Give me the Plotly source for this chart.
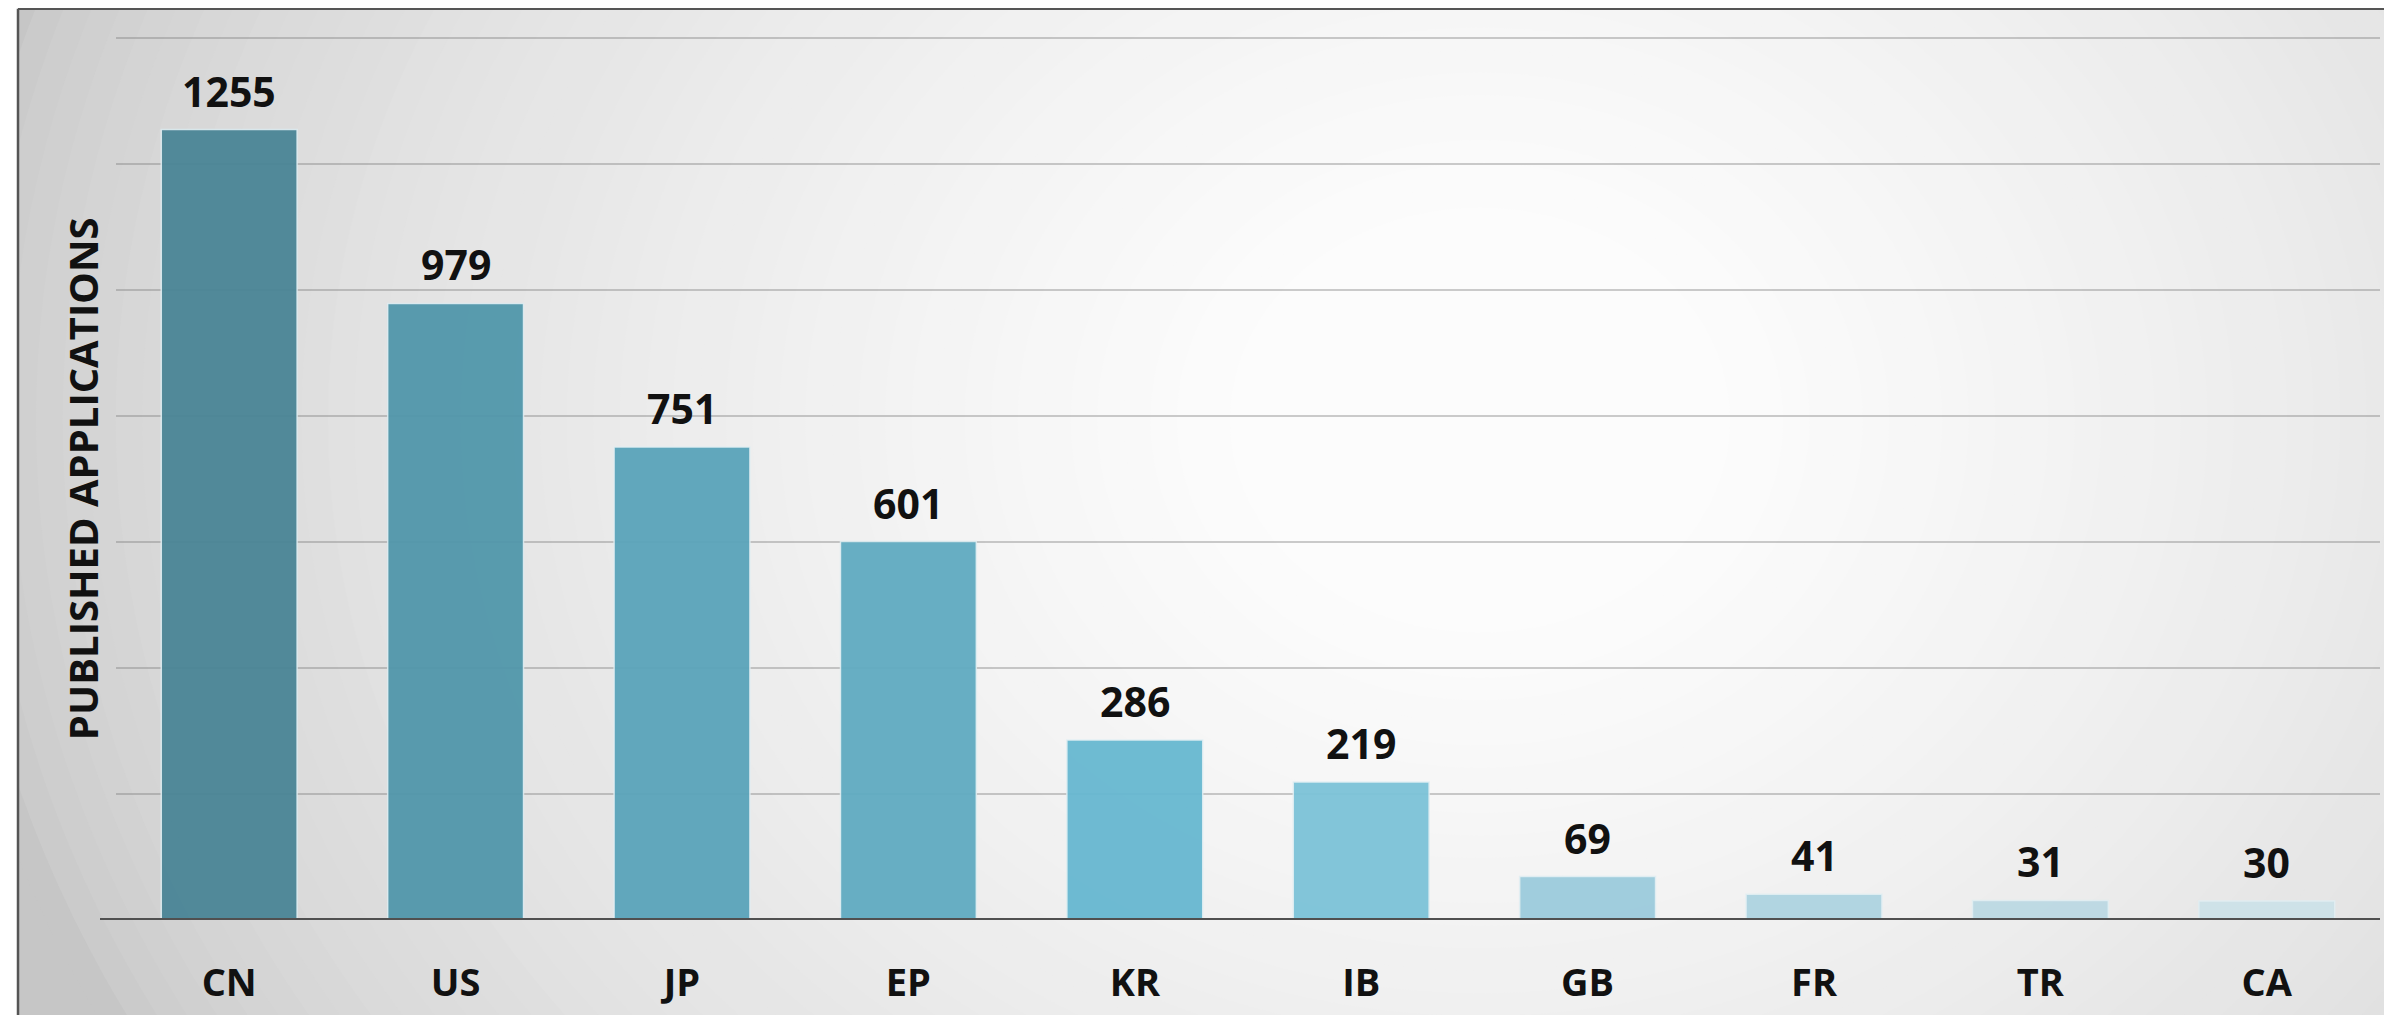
import plotly.graph_objects as go

categories = ["CN", "US", "JP", "EP", "KR", "IB", "GB", "FR", "TR", "CA"]
values = [1255, 979, 751, 601, 286, 219, 69, 41, 31, 30]
bar_colors = ["#4a8596", "#5197ab", "#5aa4ba", "#60abc1", "#67b8d1", "#7cc3d8",
              "#9ccbdc", "#aed4e1", "#bcd9e3", "#cde2e9"]
y_title = "PUBLISHED APPLICATIONS"

# page has an 8px body margin; figure sized to fit the window
OFF = 8
W, H = 2392 - 2 * OFF, 1023 - 2 * OFF
BASE_PAGE = 920          # page y of baseline
TOP1400_PAGE = 38        # page y of the 1400 gridline
YMAX = 1410
L = 116 - OFF
R = W - (2380 - OFF)
base_fig = BASE_PAGE - OFF
ppu = (BASE_PAGE - TOP1400_PAGE) / 1400.0
T = base_fig - ppu * YMAX
B = H - base_fig
PW = W - L - R
PH = H - T - B


def px_x(p):
    return (p - OFF - L) / PW


def px_y(p):
    return (base_fig - (p - OFF)) / PH


FONT = "Open Sans"

fig = go.Figure()
fig.add_trace(go.Bar(
    x=categories, y=values,
    marker=dict(color=bar_colors, opacity=0.95,
                line=dict(color="rgba(225,238,243,0.9)", width=1.5)),
    hoverinfo="x+y",
))

annotations = []
for c, v in zip(categories, values):
    annotations.append(dict(x=c, y=v, xref="x", yref="y", text=f"<b>{v}</b>",
                            showarrow=False, yanchor="bottom", yshift=9,
                            font=dict(family=FONT, size=41, color="#111111")))
annotations.append(dict(x=px_x(82), y=px_y(479), xref="paper", yref="paper",
                        text=f"<b>{y_title}</b>", textangle=-90, showarrow=False,
                        xanchor="center", yanchor="middle",
                        font=dict(family=FONT, size=40, color="#111111")))

shapes = []
shapes.append(dict(type="rect", xref="paper", yref="paper", layer="below",
                   x0=px_x(18), x1=px_x(2500), y0=px_y(1200), y1=px_y(8.5),
                   fillcolor="#c6c6c6", line=dict(width=0)))
# radial gradient approximation via concentric ellipses
cx, cy = 1480, 420
N = 50
rmax, rmin = 1550, 250
for i in range(N):
    t = i / (N - 1)
    r = rmax - (rmax - rmin) * t
    g = int(round(198 + (252 - 198) * (t ** 0.6)))
    col = f"rgb({g},{g},{g})"
    rx, ry = r, r * 0.85
    shapes.append(dict(type="circle", xref="paper", yref="paper", layer="below",
                       x0=px_x(cx - rx), x1=px_x(cx + rx),
                       y0=px_y(cy + ry), y1=px_y(cy - ry),
                       fillcolor=col, line=dict(width=0)))
shapes.append(dict(type="rect", xref="paper", yref="paper", layer="below",
                   x0=px_x(-100), x1=px_x(18), y0=px_y(1200), y1=px_y(-100),
                   fillcolor="white", line=dict(width=0)))
shapes.append(dict(type="rect", xref="paper", yref="paper", layer="below",
                   x0=px_x(-100), x1=px_x(2500), y0=px_y(8.5), y1=px_y(-100),
                   fillcolor="white", line=dict(width=0)))
shapes.append(dict(type="line", xref="paper", yref="paper", layer="below",
                   x0=px_x(18), x1=px_x(18), y0=px_y(1200), y1=px_y(8.5),
                   line=dict(color="#555555", width=2.5)))
shapes.append(dict(type="line", xref="paper", yref="paper", layer="below",
                   x0=px_x(18), x1=px_x(2500), y0=px_y(8.5), y1=px_y(8.5),
                   line=dict(color="#555555", width=2.5)))
shapes.append(dict(type="line", xref="paper", yref="y", layer="above",
                   x0=px_x(100), x1=1, y0=0, y1=0,
                   line=dict(color="#505050", width=4)))

fig.update_layout(
    width=W, height=H,
    margin=dict(l=L, r=R, t=T, b=B, pad=0),
    paper_bgcolor="white",
    plot_bgcolor="rgba(0,0,0,0)",
    bargap=0.4,
    showlegend=False,
    annotations=annotations,
    shapes=shapes,
    xaxis=dict(range=[-0.5, 9.5], showgrid=False, zeroline=False, showline=False,
               ticks="", ticklabelstandoff=37,
               tickfont=dict(family=FONT, size=38, color="#111111", weight="bold")),
    yaxis=dict(range=[0, YMAX], tickvals=[200, 400, 600, 800, 1000, 1200, 1400],
               showgrid=True, gridcolor="rgba(120,120,120,0.38)", gridwidth=2,
               zeroline=False, showline=False, showticklabels=False, ticks=""),
)

fig.write_html("out.html")
